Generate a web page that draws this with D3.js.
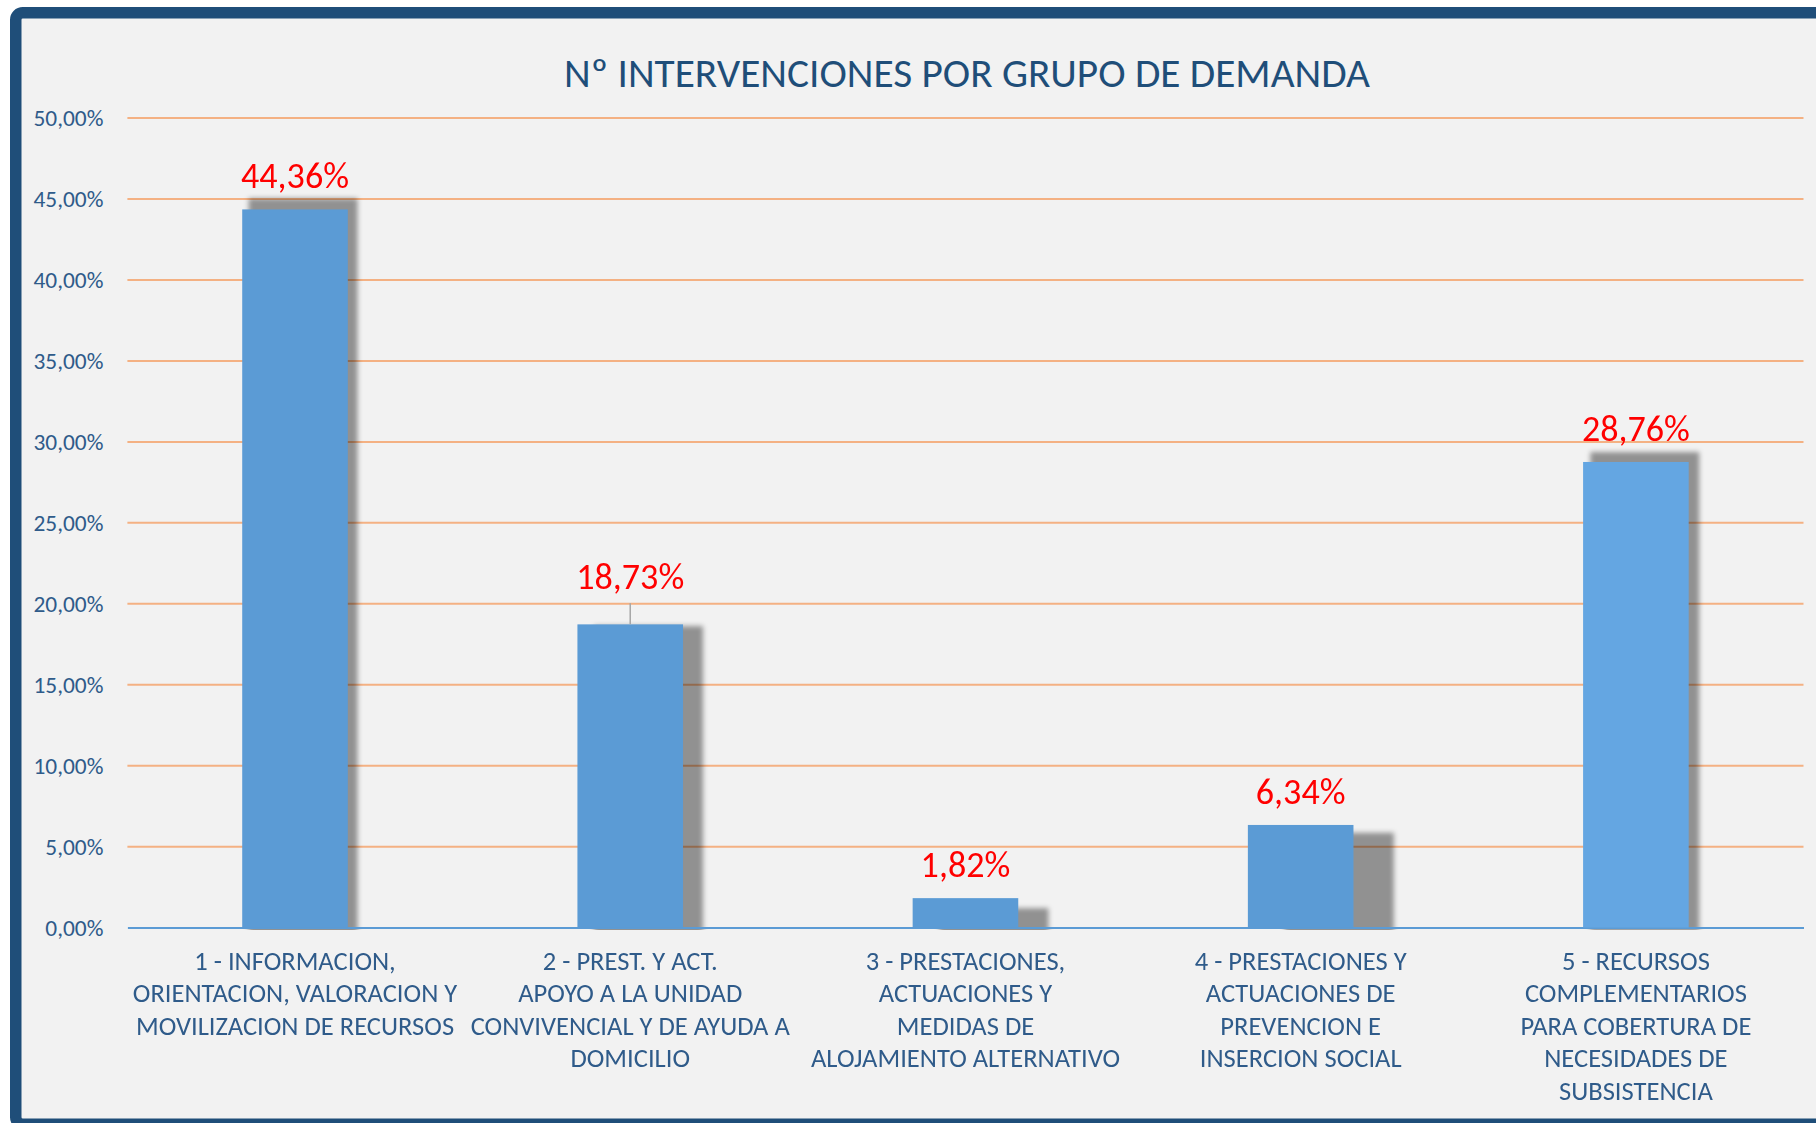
<!DOCTYPE html>
<html>
<head>
<meta charset="utf-8">
<script src="https://cdn.jsdelivr.net/npm/d3@7"></script>
<style>
  html, body { margin: 0; padding: 0; background: #ffffff; }
  svg { display: block; }
</style>
</head>
<body>
<div id="chart"></div>
<script>
// --- data ---
const title = "Nº INTERVENCIONES POR GRUPO DE DEMANDA";

const categories = [
  "1 - INFORMACION, ORIENTACION, VALORACION Y MOVILIZACION DE RECURSOS",
  "2 - PREST. Y ACT. APOYO A LA UNIDAD CONVIVENCIAL Y DE AYUDA A DOMICILIO",
  "3 - PRESTACIONES, ACTUACIONES Y MEDIDAS DE ALOJAMIENTO ALTERNATIVO",
  "4 - PRESTACIONES Y ACTUACIONES DE PREVENCION E INSERCION SOCIAL",
  "5 - RECURSOS COMPLEMENTARIOS PARA COBERTURA DE NECESIDADES DE SUBSISTENCIA"
];

const tickLines = [
  ["1 - INFORMACION,", "ORIENTACION, VALORACION Y", "MOVILIZACION DE RECURSOS"],
  ["2 - PREST. Y ACT.", "APOYO A LA UNIDAD", "CONVIVENCIAL Y DE AYUDA A", "DOMICILIO"],
  ["3 - PRESTACIONES,", "ACTUACIONES Y", "MEDIDAS DE", "ALOJAMIENTO ALTERNATIVO"],
  ["4 - PRESTACIONES Y", "ACTUACIONES DE", "PREVENCION E", "INSERCION SOCIAL"],
  ["5 - RECURSOS", "COMPLEMENTARIOS", "PARA COBERTURA DE", "NECESIDADES DE", "SUBSISTENCIA"]
];

const values = [44.36, 18.73, 1.82, 6.34, 28.76];

const yTicks = [0, 5, 10, 15, 20, 25, 30, 35, 40, 45, 50];

// --- layout / style ---
const W = 1816, H = 1123;
const plot = { left: 127.4, right: 1803.5, top: 118.1, bottom: 927.6 };
const FONT = "Carlito, Lato, sans-serif";
const blue = "#5B9BD5";
const lastBlue = "#64A6E2";
const navy = "#1F4E79";
const textBlue = "#2F5B8A";
const gridColor = "#F4B183";
const barFrac = 0.315;
const labelGap = 21;
const liftedLabel = { 1: 14 };   // the 18,73% label was dragged up, with a leader line
const shadowMain = { ox: 30, oy: 570, k: 1.0305 };
const shadowLast = { ox: 1344, oy: 790, k: 1.0305 };

const es = d3.formatLocale({ decimal: ",", thousands: ".", grouping: [3], currency: ["", "€"] });
const fmt2 = es.format(".2f");

const svg = d3.select("#chart").append("svg")
  .attr("width", W)
  .attr("height", H);

function fitSize(sample, target) {
  const t = svg.append("text")
    .style("font-family", FONT)
    .style("font-size", "100px")
    .text(sample);
  const w = t.node().getComputedTextLength();
  t.remove();
  return 100 * target / w;
}

const defs = svg.append("defs");
const blur = defs.append("filter")
  .attr("id", "shadowBlur")
  .attr("x", "-20%").attr("y", "-20%")
  .attr("width", "140%").attr("height", "140%");
blur.append("feGaussianBlur").attr("stdDeviation", 2.6);

defs.append("clipPath").attr("id", "plotClip")
  .append("rect")
  .attr("x", 0).attr("y", 0)
  .attr("width", W).attr("height", plot.bottom + 2);

// frame
svg.append("rect")
  .attr("x", 15.75)
  .attr("y", 12.75)
  .attr("width", W + 20)
  .attr("height", 1111.5)
  .attr("rx", 7)
  .style("fill", "#F2F2F2")
  .style("stroke", navy)
  .style("stroke-width", 11.5);

// title
svg.append("text")
  .attr("x", 967)
  .attr("y", 86.7)
  .attr("text-anchor", "middle")
  .style("font-family", FONT)
  .style("font-size", fitSize(title, 806) + "px")
  .style("fill", navy)
  .text(title);

const x = d3.scaleBand()
  .domain(categories)
  .range([plot.left, plot.right])
  .padding(0);

const y = d3.scaleLinear()
  .domain([0, 50])
  .range([plot.bottom, plot.top]);

const barW = x.bandwidth() * barFrac;
const barX = (c) => x(c) + (x.bandwidth() - barW) / 2;

// gridlines
svg.append("g")
  .selectAll("line")
  .data(yTicks.filter(d => d > 0))
  .enter().append("line")
  .attr("x1", plot.left)
  .attr("x2", plot.right)
  .attr("y1", d => y(d))
  .attr("y2", d => y(d))
  .style("stroke", gridColor)
  .style("stroke-width", 2);

// y axis labels
const yAxis = svg.append("g")
  .attr("transform", `translate(${plot.left},0)`)
  .call(d3.axisLeft(y).tickValues(yTicks).tickSize(0).tickPadding(24)
    .tickFormat(d => fmt2(d) + "%"));
yAxis.select(".domain").remove();
yAxis.selectAll("text")
  .style("font-family", FONT)
  .style("font-size", fitSize("50,00%", 70) + "px")
  .style("fill", textBlue);

// perspective shadows
const shadowG = svg.append("g")
  .attr("clip-path", "url(#plotClip)")
  .append("g")
  .attr("filter", "url(#shadowBlur)");

shadowG.selectAll("rect")
  .data(values)
  .enter().append("rect")
  .attr("x", (d, i) => barX(categories[i]))
  .attr("y", d => y(d))
  .attr("width", barW)
  .attr("height", d => y(0) - y(d))
  .attr("transform", (d, i) => {
    const s = i === values.length - 1 ? shadowLast : shadowMain;
    return `translate(${s.ox},${s.oy}) scale(${s.k}) translate(${-s.ox},${-s.oy})`;
  })
  .style("fill", "#000")
  .style("fill-opacity", 0.4);

// category axis
const xAxis = svg.append("g")
  .attr("transform", `translate(0,${plot.bottom})`)
  .call(d3.axisBottom(x).tickSize(0).tickSizeOuter(0));
xAxis.select(".domain")
  .style("stroke", blue)
  .style("stroke-width", 2);

const xFont = fitSize("4 - PRESTACIONES Y", 212);
xAxis.selectAll(".tick text").each(function (d) {
  const i = categories.indexOf(d);
  const t = d3.select(this)
    .text(null)
    .attr("y", 0)
    .attr("dy", null)
    .style("font-family", FONT)
    .style("font-size", xFont + "px")
    .style("fill", textBlue);
  tickLines[i].forEach((line, k) => {
    t.append("tspan")
      .attr("x", 0)
      .attr("y", 42.4 + k * 32.4)
      .text(line);
  });
});

// bars
svg.append("g")
  .selectAll("rect")
  .data(values)
  .enter().append("rect")
  .attr("x", (d, i) => barX(categories[i]))
  .attr("y", d => y(d))
  .attr("width", barW)
  .attr("height", d => y(0) - y(d))
  .style("fill", (d, i) => i === values.length - 1 ? lastBlue : blue);

// leader lines for moved labels
svg.append("g")
  .selectAll("line")
  .data(values.map((v, i) => ({ v, i })).filter(d => liftedLabel[d.i]))
  .enter().append("line")
  .attr("x1", d => x(categories[d.i]) + x.bandwidth() / 2)
  .attr("x2", d => x(categories[d.i]) + x.bandwidth() / 2)
  .attr("y1", d => y(d.v) - labelGap)
  .attr("y2", d => y(d.v))
  .style("stroke", "#A6A6A6")
  .style("stroke-width", 1.5);

// data labels
const labelFont = fitSize("18,73%", 108);
svg.append("g")
  .selectAll("text")
  .data(values)
  .enter().append("text")
  .attr("x", (d, i) => x(categories[i]) + x.bandwidth() / 2)
  .attr("y", (d, i) => y(d) - labelGap - (liftedLabel[i] || 0))
  .attr("text-anchor", "middle")
  .style("font-family", FONT)
  .style("font-size", labelFont + "px")
  .style("fill", "#FF0000")
  .text(d => fmt2(d) + "%");
</script>
</body>
</html>
